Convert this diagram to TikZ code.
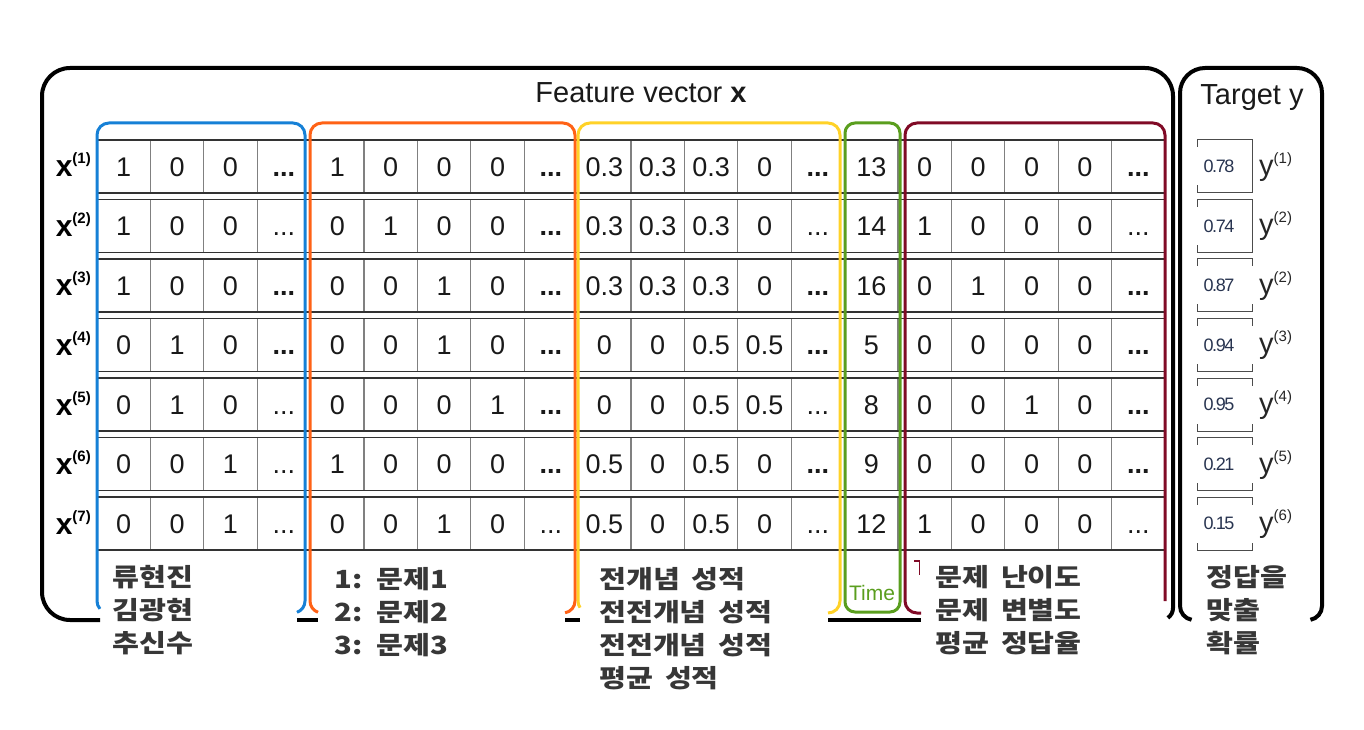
\documentclass[tikz,border=0pt]{standalone}
\usepackage{fontspec}
\setmainfont{Liberation Sans}
\newfontfamily\krfont{Noto Sans CJK KR}[FakeStretch=1.17, WordSpace=1.8]
\newfontfamily\valfont{Liberation Sans}[LetterSpace=-8]

\definecolor{fblue}{RGB}{22,128,214}
\definecolor{forange}{RGB}{255,98,22}
\definecolor{fyellow}{RGB}{255,210,40}
\definecolor{fgreen}{RGB}{90,158,30}
\definecolor{fmaroon}{RGB}{128,10,38}
\definecolor{labgray}{RGB}{55,55,55}
\definecolor{valblue}{RGB}{40,52,80}

\newcommand\bdt{\textbf{...}}
\newcommand\ndt{...}

\tikzset{
  frame/.style={line width=4pt, black},
  group/.style={line width=3pt},
  rowline/.style={draw=black!80, line width=1.1pt},
  colline/.style={draw=black!50, line width=1.2pt},
  cell/.style={font=\fontsize{27}{27}\selectfont, text=black!90, inner sep=0pt,
               text height=19.5pt, text depth=0pt},
  rowlab/.style={font=\fontsize{30}{30}\selectfont\bfseries, inner sep=0pt},
  ylab/.style={font=\fontsize{29}{29}\selectfont, text=black!85, inner sep=0pt},
  ybox/.style={draw=black!70, line width=1pt},
  yval/.style={fill=white, inner sep=0pt, minimum height=38pt,
               font=\valfont\fontsize{18}{18}\selectfont, text=valblue},
  title/.style={font=\fontsize{29}{29}\selectfont, text=black!90, inner sep=0pt},
  klabel/.style={anchor=north west, inner sep=0pt, align=left, text=labgray,
                 font=\krfont\bfseries\fontsize{25}{33}\selectfont}
}

\begin{document}
\begin{tikzpicture}[x=1pt, y=1pt]
  \useasboundingbox (0,0) rectangle (1364,729);

  % grid of feature values, one row per sample
  \foreach \r/\vals in {
      1/{1,0,0,\bdt,1,0,0,0,\bdt,0.3,0.3,0.3,0,\bdt,13,0,0,0,0,\bdt},
      2/{1,0,0,\ndt,0,1,0,0,\bdt,0.3,0.3,0.3,0,\ndt,14,1,0,0,0,\ndt},
      3/{1,0,0,\bdt,0,0,1,0,\bdt,0.3,0.3,0.3,0,\bdt,16,0,1,0,0,\bdt},
      4/{0,1,0,\bdt,0,0,1,0,\bdt,0,0,0.5,0.5,\bdt,5,0,0,0,0,\bdt},
      5/{0,1,0,\ndt,0,0,0,1,\bdt,0,0,0.5,0.5,\ndt,8,0,0,1,0,\bdt},
      6/{0,0,1,\ndt,1,0,0,0,\bdt,0.5,0,0.5,0,\bdt,9,0,0,0,0,\bdt},
      7/{0,0,1,\ndt,0,0,1,0,\ndt,0.5,0,0.5,0,\ndt,12,1,0,0,0,\ndt}} {
    \pgfmathsetmacro\yt{589-59.5*(\r-1)}
    \pgfmathsetmacro\yc{\yt-26.5}
    \foreach \k in {1,...,19}
      \draw[colline] (97+53.4*\k,\yt) -- (97+53.4*\k,\yt-53);
    \draw[rowline] (97,\yt) -- (1165,\yt) (97,\yt-53) -- (1165,\yt-53);
    \foreach \v [count=\k] in \vals
      \node[cell] (c\r-\k) at (97+53.4*\k-26.7,\yc) {\v};
    \node[rowlab, anchor=base east] (lab\r) at (91,\yc-10.5)
      {x\raisebox{13pt}{\fontsize{15}{15}\selectfont(\r)}};
  }

  % target column
  \foreach \r/\s/\val/\w in {1/1/0.78/52, 2/2/0.74/52, 3/2/0.87/70, 4/3/0.94/70,
                             5/4/0.95/70, 6/5/0.21/70, 7/6/0.15/70} {
    \pgfmathsetmacro\yt{589-59.5*(\r-1)}
    \pgfmathsetmacro\yc{\yt-26.5}
    \draw[ybox] (1197,\yt) rectangle (1252,\yt-53);
    \node[yval, minimum width=\w pt] (v\r) at (1219,\yc) {\val};
    \node[ylab, anchor=base west] (y\r) at (1259,\yc-9)
      {y\raisebox{12pt}{\fontsize{15}{15}\selectfont(\s)}};
  }

  % outer frames
  \draw[frame] (100,109) -- (70,109) arc[start angle=270, end angle=180, radius=28pt]
    -- (42,633) arc[start angle=180, end angle=90, radius=28pt]
    -- (1145,661) arc[start angle=90, end angle=0, radius=28pt]
    -- (1173,121) arc[start angle=0, end angle=-55, radius=12pt];
  \draw[frame] (297,109) -- (318,109) (565,109) -- (580,109) (828,109) -- (921,109);
  \draw[frame] ([shift={(260:14pt)}]1194,123) arc[start angle=260, end angle=180, radius=14pt]
    -- (1180,636) arc[start angle=180, end angle=90, radius=25pt]
    -- (1297,661) arc[start angle=90, end angle=0, radius=25pt]
    -- (1322,123) arc[start angle=0, end angle=-80, radius=14pt];

  % coloured groups
  \foreach \xl/\xr/\col/\al/\ar in {97/305/fblue/221/-70.5, 310/575/forange/250.5/-80,
                                     578/840/fyellow/213.6/-90}
    \draw[group, \col] ([shift={(\al:12pt)}]\xl+12,128)
        arc[start angle=\al, end angle=180, radius=12pt]
      -- (\xl,594) arc[start angle=180, end angle=90, radius=12pt]
      -- (\xr-12,606) arc[start angle=90, end angle=0, radius=12pt]
      -- (\xr,128) arc[start angle=0, end angle=\ar, radius=12pt];
  \draw[group, fgreen, rounded corners=10pt] (845,117) rectangle (900,606);
  \draw[group, fmaroon] (921,116) -- (917,116) arc[start angle=270, end angle=180, radius=12pt]
    -- (905,594) arc[start angle=180, end angle=90, radius=12pt]
    -- (1153,606) arc[start angle=90, end angle=0, radius=12pt] -- (1165,128);
  \draw[fmaroon, line width=1.3pt] (914,168) -- (919.5,168) -- (919.5,154);

  % titles
  \node[title] (feat) at (641,636) {Feature vector \textbf{x}};
  \node[title] (targ) at (1252,631) {Target y};
  \node[font=\fontsize{21}{21}\selectfont, text=fgreen, inner sep=0pt] (time) at (872,136) {Time};

  % notes under the groups
  \node[klabel] (players) at (112,164) {류현진\\김광현\\추신수};
  \node[klabel] (problems) at (334,162) {1: 문제1\\2: 문제2\\3: 문제3};
  \node[klabel] (scores) at (599,162) {전개념 성적\\전전개념 성적\\전전개념 성적\\평균 성적};
  \node[klabel] (items) at (935,164) {문제 난이도\\문제 변별도\\평균 정답율};
  \node[klabel] (prob) at (1206,164) {정답을\\맞출\\확률};
\end{tikzpicture}
\end{document}
